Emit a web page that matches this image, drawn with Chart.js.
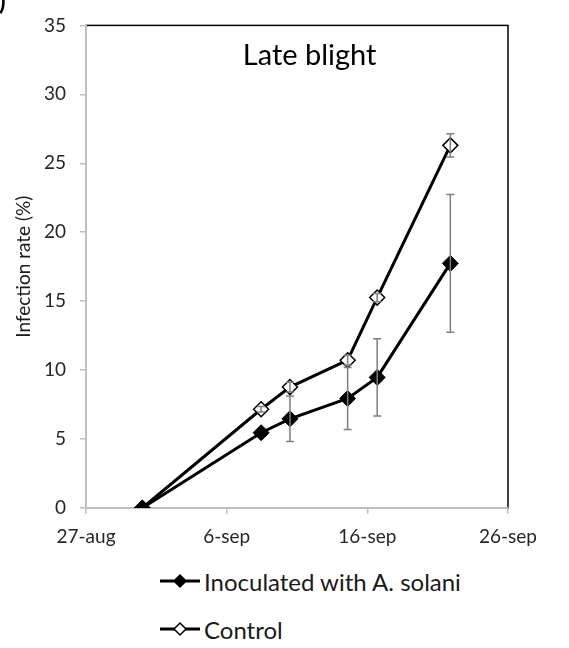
<!DOCTYPE html>
<html>
<head>
<meta charset="utf-8">
<script src="https://cdn.jsdelivr.net/npm/chart.js@4.4.1/dist/chart.umd.min.js"></script>
<style>
  html, body { margin: 0; padding: 0; background: #fff; }
  body { width: 569px; height: 648px; position: relative; overflow: hidden; font-family: Lato, "Open Sans", sans-serif; }
  #wrap { position: absolute; left: 0; top: 0; width: 569px; height: 556px; }
  #legend { position: absolute; left: 158px; top: 557px; font-size: 24px; color: #1a1a1a; }
  .item { display: flex; align-items: center; height: 48px; }
  .item svg { margin-right: 2px; }
  #tag { position: absolute; left: -14px; top: -14px; font-size: 24px; font-weight: bold; color: #000; }
</style>
</head>
<body>
<div id="wrap"><canvas id="c"></canvas></div>
<div id="tag">b)</div>
<div id="legend"></div>
<script>
const chartTitle = 'Late blight';
const yTitle = 'Infection rate (%)';
const xTickLabels = ['27-aug', '6-sep', '16-sep', '26-sep'];
const yTicks = [0, 5, 10, 15, 20, 25, 30, 35];
// days since 27-aug
const dayOffsets = [4.0, 12.45, 14.5, 18.6, 20.7, 25.9];
const seriesNames = ['Inoculated with A. solani', 'Control'];
const inoculated = [0, 5.46, 6.47, 7.94, 9.47, 17.74];
const inoculatedErr = [0, 0, 1.65, 2.25, 2.8, 5.0];
const control = [0, 7.16, 8.77, 10.72, 15.26, 26.3];
const controlErr = [0, 0.2, 0.35, 0.35, 0.3, 0.85];

const toPts = (ys) => dayOffsets.map((d, i) => ({ x: d, y: ys[i] }));

const errorBars = {
  id: 'errorBars',
  afterDatasetsDraw(chart) {
    const ctx = chart.ctx;
    const xs = chart.scales.x, ys = chart.scales.y;
    const sets = [[inoculated, inoculatedErr], [control, controlErr]];
    ctx.save();
    ctx.strokeStyle = '#7f7f7f';
    ctx.lineWidth = 1.5;
    sets.forEach(([vals, errs]) => {
      vals.forEach((v, i) => {
        const e = errs[i];
        if (!e) return;
        const px = xs.getPixelForValue(dayOffsets[i]);
        const top = ys.getPixelForValue(v + e);
        const bot = ys.getPixelForValue(v - e);
        ctx.beginPath();
        ctx.moveTo(px, top); ctx.lineTo(px, bot);
        ctx.moveTo(px - 4, top); ctx.lineTo(px + 4, top);
        ctx.moveTo(px - 4, bot); ctx.lineTo(px + 4, bot);
        ctx.stroke();
      });
    });
    ctx.restore();
  }
};

const frame = {
  id: 'frame',
  beforeDraw(chart) {
    const a = chart.chartArea, ctx = chart.ctx;
    ctx.save();
    ctx.strokeStyle = '#000';
    ctx.lineWidth = 1.5;
    ctx.strokeRect(a.left, a.top, a.right - a.left, a.bottom - a.top);
    ctx.restore();
  },
  afterDraw(chart) {
    const ctx = chart.ctx, a = chart.chartArea;
    ctx.save();
    ctx.font = '29px Lato, "Open Sans", sans-serif';
    ctx.fillStyle = '#000';
    ctx.textAlign = 'center';
    ctx.textBaseline = 'middle';
    ctx.fillText(chartTitle, a.left + (a.right - a.left) * 0.53, a.top + 30);
    ctx.restore();
  }
};

const ctx = document.getElementById('c');
new Chart(ctx, {
  type: 'line',
  data: {
    datasets: [
      {
        label: seriesNames[0], data: toPts(inoculated),
        borderColor: '#000', borderWidth: 3, backgroundColor: '#000',
        pointStyle: 'rectRot', pointRadius: 8, pointBackgroundColor: '#000',
        pointBorderColor: '#000', pointBorderWidth: 1, tension: 0, order: 1
      },
      {
        label: seriesNames[1], data: toPts(control),
        borderColor: '#000', borderWidth: 3, backgroundColor: '#fff',
        pointStyle: 'rectRot', pointRadius: 7.5, pointBackgroundColor: '#fff',
        pointBorderColor: '#000', pointBorderWidth: 1.5, tension: 0, order: 2
      }
    ]
  },
  options: {
    responsive: true, maintainAspectRatio: false, animation: false,
    layout: { padding: { top: 14, right: 61, left: 0, bottom: 0 } },
    plugins: { legend: { display: false }, tooltip: { enabled: false }, title: { display: false } },
    scales: {
      x: {
        type: 'linear', min: 0, max: 30,
        afterBuildTicks(s) { s.ticks = xTickLabels.map((_, i) => ({ value: i * 10 })); },
        ticks: {
          callback: (v) => xTickLabels[Math.round(v / 10)],
          color: '#262626', font: { size: 19, family: 'Lato' }, padding: 11, maxRotation: 0
        },
        grid: { drawOnChartArea: false, drawTicks: true, tickLength: 6, color: '#bfbfbf', lineWidth: 1.5 },
        border: { color: '#bfbfbf', width: 2 },
        afterFit(s) { s.height = 48; }
      },
      y: {
        min: 0, max: 35,
        afterBuildTicks(s) { s.ticks = yTicks.map(v => ({ value: v })); },
        ticks: { color: '#262626', font: { size: 19, family: 'Lato' }, padding: 14 },
        grid: { drawOnChartArea: false, drawTicks: true, tickLength: 6, color: '#bfbfbf', lineWidth: 1.5 },
        border: { color: '#bfbfbf', width: 2 },
        title: { display: true, text: yTitle, color: '#1a1a1a', font: { size: 19, family: 'Lato' }, padding: { top: 12, bottom: 0 } },
        afterFit(s) { s.width = 86; }
      }
    }
  },
  plugins: [frame, errorBars]
});

// HTML legend
const legend = document.getElementById('legend');
seriesNames.forEach((name, i) => {
  const fill = i === 0 ? '#000' : '#fff';
  const div = document.createElement('div');
  div.className = 'item';
  div.innerHTML = '<svg width="44" height="20" viewBox="0 0 44 20">' +
    '<line x1="2" y1="10" x2="42" y2="10" stroke="#000" stroke-width="3"/>' +
    '<polygon points="22,4 28,10 22,16 16,10" fill="' + fill + '" stroke="#000" stroke-width="1.5"/></svg>' +
    '<span>' + name + '</span>';
  legend.appendChild(div);
});
</script>
</body>
</html>
